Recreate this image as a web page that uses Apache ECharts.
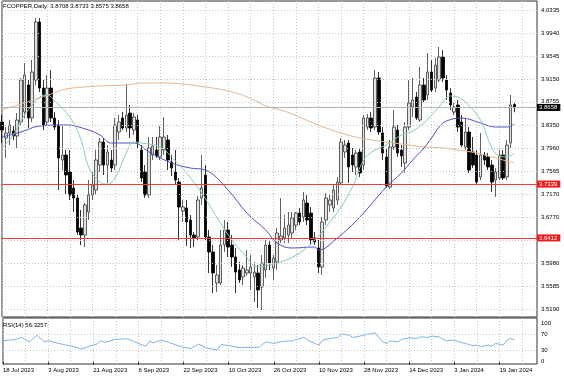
<!DOCTYPE html>
<html>
<head>
<meta charset="utf-8">
<script src="https://cdn.jsdelivr.net/npm/echarts@6/dist/echarts.min.js"></script>
<style>
html, body { margin: 0; padding: 0; background: #fff; }
#chart { width: 564px; height: 376px; }
</style>
</head>
<body>
<div id="chart"></div>
<script>
// daily bars, 18 Jul 2023 .. 25 Jan 2024
var opens = [3.8407,3.8132,3.8218,3.8252,3.8166,3.8407,3.8579,3.9044,3.8476,3.9130,4.0128,3.8992,3.8407,3.8992,3.8476,3.8356,3.7753,3.7839,3.7547,3.7271,
    3.7099,3.6583,3.6462,3.6858,3.7151,3.7237,3.7667,3.8063,3.7667,3.7753,3.7667,3.8235,3.8476,3.8304,3.8562,3.8269,3.8442,3.7925,3.7547,3.7151,
    3.7839,3.7925,3.7805,3.7925,3.8097,3.7719,3.7547,3.7374,3.6875,3.6927,3.6720,3.6462,3.6428,3.7099,3.7495,3.6428,3.6170,3.5636,3.5636,3.6290,
    3.6548,3.6290,3.6084,3.5860,3.5739,3.5808,3.5808,3.5739,3.5808,3.5567,3.5860,3.6290,3.5894,3.5998,3.6376,3.6411,3.6462,3.6497,3.6634,3.6841,
    3.6772,3.7013,3.6841,3.6411,3.6238,3.5911,3.6720,3.6979,3.6927,3.7065,3.7357,3.7891,3.8046,3.7839,3.7633,3.7891,3.7667,3.8321,3.8476,3.8321,
    3.9164,3.8218,3.7805,3.7288,3.7977,3.8269,3.7925,3.7701,3.8321,3.8665,3.8837,3.8442,3.9044,3.8872,3.9268,3.8992,3.9130,3.9526,3.9130,3.8906,
    3.8579,3.8700,3.8407,3.7977,3.8235,3.7891,3.7839,3.7461,3.7839,3.7805,3.7667,3.7409,3.7443,3.7839,3.7461,3.8046,3.8708];
var highs = [3.8528,3.8321,3.8442,3.8338,3.8562,3.9164,3.9423,3.9130,3.9474,4.0197,4.0197,3.9130,3.9216,3.9302,3.8579,3.8442,3.8356,3.7925,3.7925,3.7409,
    3.7151,3.6893,3.7013,3.7409,3.7547,3.7925,3.8132,3.8132,3.8011,3.7925,3.8476,3.8528,3.8579,3.9061,3.8700,3.8562,3.8528,3.8011,3.7667,3.8149,
    3.8149,3.8149,3.8338,3.8493,3.8183,3.7839,3.7925,3.7443,3.7065,3.7065,3.6806,3.6514,3.7133,3.7839,3.7667,3.6548,3.6290,3.5946,3.6548,3.6720,
    3.6686,3.6462,3.6238,3.5998,3.5946,3.6204,3.6118,3.5998,3.5946,3.6118,3.6376,3.6376,3.6118,3.6583,3.7099,3.6806,3.6858,3.6858,3.6858,3.6927,
    3.7202,3.7151,3.6944,3.6514,3.6376,3.6772,3.7185,3.7151,3.7323,3.7461,3.8132,3.8097,3.8097,3.7960,3.7925,3.7960,3.8528,3.8545,3.8579,3.9302,
    3.9268,3.8321,3.7960,3.8097,3.8614,3.8356,3.8011,3.8407,3.9130,3.9164,3.8923,3.9354,3.9164,3.9595,3.9474,3.9509,3.9698,3.9646,3.9216,3.8992,
    3.8734,3.8786,3.8528,3.8476,3.8321,3.8149,3.7925,3.8218,3.7891,3.7874,3.7753,3.7615,3.7925,3.7925,3.8097,3.8872,3.8733];
var lows = [3.8046,3.7788,3.8011,3.8097,3.7960,3.8356,3.8476,3.8304,3.8407,3.9044,3.8923,3.8269,3.8356,3.8407,3.8269,3.7237,3.7581,3.7151,3.7065,3.6858,
    3.6462,3.6290,3.6256,3.6720,3.7065,3.7151,3.7547,3.7495,3.7357,3.7547,3.7581,3.8097,3.8269,3.8235,3.8132,3.8183,3.7960,3.7374,3.7099,3.7099,
    3.7753,3.7788,3.7753,3.7839,3.7581,3.7478,3.7323,3.6376,3.6686,3.6273,3.6238,3.6256,3.6376,3.6979,3.6376,3.5808,3.5464,3.5481,3.5602,3.6170,
    3.6084,3.5911,3.5464,3.5636,3.5602,3.5757,3.5516,3.5309,3.5206,3.5171,3.5722,3.5860,3.5688,3.5860,3.6325,3.6325,3.6325,3.6411,3.6548,3.6634,
    3.6686,3.6634,3.6290,3.6290,3.5808,3.5774,3.6634,3.6858,3.6858,3.6979,3.7323,3.7788,3.7357,3.7547,3.7495,3.7461,3.7581,3.8269,3.8235,3.8269,
    3.8183,3.7753,3.7271,3.7254,3.7925,3.7805,3.7633,3.7529,3.8269,3.8493,3.8442,3.8407,3.8751,3.8786,3.8923,3.8923,3.9096,3.9096,3.8786,3.8614,
    3.8528,3.8235,3.7977,3.7925,3.7529,3.7615,3.7323,3.7409,3.7667,3.7581,3.7202,3.7116,3.7409,3.7409,3.7409,3.7960,3.8575];
var closes = [3.8269,3.8218,3.8356,3.8166,3.8442,3.9130,3.9216,3.8476,3.9268,4.0128,3.8992,3.8356,3.8992,3.8476,3.8321,3.7788,3.7839,3.7495,3.7151,3.7099,
    3.6514,3.6462,3.6979,3.7151,3.7323,3.7753,3.8063,3.7667,3.7891,3.7615,3.8356,3.8407,3.8304,3.8528,3.8304,3.8493,3.8046,3.7443,3.7151,3.7960,
    3.7994,3.7822,3.8149,3.8149,3.7753,3.7615,3.7409,3.6944,3.6944,3.6686,3.6462,3.6411,3.7065,3.7271,3.6428,3.6170,3.5808,3.5774,3.6290,3.6548,
    3.6256,3.6084,3.5825,3.5688,3.5894,3.5860,3.5911,3.5825,3.5516,3.5980,3.6290,3.5980,3.6066,3.6497,3.6445,3.6583,3.6634,3.6755,3.6841,3.6686,
    3.7065,3.6720,3.6376,3.6342,3.5911,3.6686,3.7099,3.7065,3.7237,3.7374,3.8063,3.8011,3.7633,3.7667,3.7874,3.7529,3.8476,3.8476,3.8304,3.9164,
    3.8235,3.7874,3.7306,3.7977,3.8321,3.7874,3.7822,3.8321,3.8734,3.8786,3.8476,3.9044,3.8786,3.9268,3.8958,3.9388,3.9526,3.9164,3.8958,3.8700,
    3.8665,3.8321,3.8011,3.8235,3.7581,3.7667,3.7374,3.7839,3.7753,3.7633,3.7374,3.7547,3.7839,3.7443,3.8011,3.8700,3.8658];

// moving averages, [bar, price]
var maSlow = [[0,3.8614],[5,3.8717],[9,3.8803],[13,3.8889],[17,3.8975],[22,3.9010],[26,3.9027],[33,3.9044],[37,3.9078],[43,3.9078],[48,3.9061],
    [52,3.9027],[56,3.8992],[59,3.8958],[63,3.8889],[65,3.8837],[68,3.8751],[70,3.8683],[74,3.8614],[77,3.8545],[82,3.8407],[86,3.8304],[90,3.8218],
    [95,3.8132],[100,3.8080],[104,3.8046],[108,3.8011],[112,3.7977],[117,3.7960],[121,3.7925],[126,3.7874],[130,3.7805],[136,3.7701]];
var maMid = [[0,3.8149],[5,3.8235],[10,3.8338],[17,3.8356],[23,3.8269],[26,3.8183],[29,3.8046],[35,3.8046],[39,3.7891],[45,3.7701],[50,3.7615],
    [54,3.7581],[60,3.7237],[65,3.6841],[70,3.6548],[73,3.6325],[77,3.6238],[83,3.6256],[84,3.6204],[89,3.6411],[95,3.6772],[102,3.7288],[106,3.7529],
    [109,3.7753],[112,3.7960],[114,3.8132],[116,3.8321],[118,3.8425],[122,3.8476],[127,3.8390],[131,3.8321],[134,3.8321],[136,3.8373]];
var maFast = [[0,3.7960],[3,3.8183],[6,3.8528],[10,3.8837],[12,3.8872],[14,3.8769],[18,3.8493],[21,3.8097],[23,3.7633],[26,3.7374],[28,3.7340],
    [30,3.7443],[33,3.7874],[35,3.8063],[37,3.8046],[42,3.7977],[45,3.7805],[49,3.7529],[53,3.7185],[57,3.6772],[61,3.6376],[64,3.6152],[68,3.5911],
    [70,3.5929],[74,3.5998],[79,3.6152],[83,3.6376],[86,3.6600],[90,3.6944],[93,3.7288],[96,3.7753],[99,3.7925],[102,3.8011],[106,3.8183],[109,3.8252],
    [112,3.8390],[116,3.8665],[119,3.8855],[121,3.8837],[123,3.8751],[127,3.8442],[130,3.7960],[132,3.7822],[134,3.7805],[136,3.7874]];

// RSI(14), [bar, value]
var rsi = [[0,54],[3,57],[5,62.5],[7,51],[9,68.5],[11,51],[12,54],[14,49],[16,44.5],[19,38.5],[21,32.6],[23,40],[25,45.5],[26,54],[27,50],[30,57.5],
    [33,59],[34,55.5],[36,47],[38,40],[39,53],[40,49],[42,55.5],[44,50],[46,43],[48,37],[50,34],[52,45.5],[54,36],[57,30],[58,44.5],[61,40],[63,36],
    [65,37],[68,37],[69,44.5],[70,51],[72,47],[74,52],[77,54],[78,57.5],[80,62.5],[81,55.5],[83,47],[84,43],[85,55.5],[87,60],[89,62.5],[90,71],
    [92,68.5],[93,62.5],[95,66],[96,68.5],[98,72.6],[99,74],[100,62.5],[101,51],[102,47],[103,54],[105,51],[106,57.5],[108,61.5],[110,60],[111,64],
    [113,62.5],[114,66],[116,64],[117,57.5],[118,54],[120,55.5],[122,49],[123,47],[125,41],[126,43],[127,38.5],[129,43],[130,40],[131,47],[133,43],
    [134,55.5],[135,60],[136,56.3257]];

var tickLabels = ['18 Jul 2023', '3 Aug 2023', '21 Aug 2023', '6 Sep 2023', '22 Sep 2023', '10 Oct 2023', '26 Oct 2023',
    '10 Nov 2023', '28 Nov 2023', '14 Dec 2023', '3 Jan 2024', '19 Jan 2024'];
var priceTicks = [4.0335, 3.9940, 3.9545, 3.9150, 3.8755, 3.8350, 3.7960, 3.7565, 3.7170, 3.6770, 3.6375, 3.5980, 3.5585, 3.5190];
var rsiTicks = [0, 30, 70, 100];
var levels = [3.7339, 3.6412];

var slotCount = 143; // bars plus the empty shift on the right
var font = 'Liberation Sans';

var init_chart = function() {
    var chart = echarts.init(document.getElementById('chart'));

    var slots = [];
    for (var i = 0; i < slotCount; i++) slots.push(String(i));

    var candles = opens.map(function(o, i) { return [o, closes[i], lows[i], highs[i]]; });
    var last = opens.length - 1;
    var lastPrice = closes[last];
    var head = 'FCOPPER,Daily  ' + [opens[last], highs[last], lows[last], closes[last]].map(function(v) { return v.toFixed(4); }).join(' ');
    var rsiHead = 'RSI(14) ' + rsi[rsi.length - 1][1].toFixed(4);

    var dotted = { color: '#c6c6c6', type: [1, 2], width: 1 };
    var hidden = { color: 'rgba(0,0,0,0)', width: 0 };

    var levelLines = levels.map(function(v) {
        return {
            yAxis: v,
            lineStyle: { color: '#f23a3a', type: 'solid', width: 1 },
            label: { show: true, position: 'end', distance: 0, formatter: v.toFixed(4), color: '#fff', backgroundColor: '#f01818',
                padding: [0, 3, 0, 2], lineHeight: 7, fontSize: 6, fontFamily: font }
        };
    });
    levelLines.push({
        yAxis: lastPrice,
        lineStyle: { color: '#b4b4b4', type: 'solid', width: 1 },
        label: { show: true, position: 'end', distance: 0, formatter: lastPrice.toFixed(4), color: '#fff', backgroundColor: '#000',
            padding: [0, 3, 0, 2], lineHeight: 7, fontSize: 6, fontFamily: font }
    });

    var option = {
        animation: false,
        backgroundColor: '#fff',
        title: [
            { text: head, left: 3, top: 3, padding: 0, textStyle: { fontSize: 6, fontWeight: 'normal', color: '#000', fontFamily: font } },
            { text: rsiHead, left: 3, top: 322, padding: 0, textStyle: { fontSize: 6, fontWeight: 'normal', color: '#000', fontFamily: font } }
        ],
        grid: [
            { left: 2, right: 27, top: 1, height: 316, show: true, borderColor: '#333', borderWidth: 1 },
            { left: 2, right: 27, top: 318, height: 46, show: true, borderColor: '#333', borderWidth: 1 }
        ],
        xAxis: [
            {
                type: 'category', gridIndex: 0, data: slots, boundaryGap: false,
                axisLine: { show: false }, axisTick: { show: false }, axisLabel: { show: false },
                splitLine: { show: true, interval: 5, lineStyle: dotted }
            },
            {
                type: 'category', gridIndex: 1, data: slots, boundaryGap: false,
                axisLine: { show: false },
                axisTick: { show: true, interval: 11, length: 3, lineStyle: { color: '#333' } },
                axisLabel: {
                    interval: 11, align: 'left', margin: 3, fontSize: 6, color: '#000', fontFamily: font,
                    formatter: function(value, index) { return tickLabels[index / 12] || ''; }
                },
                splitLine: { show: true, interval: 5, lineStyle: dotted }
            }
        ],
        yAxis: [
            { type: 'value', gridIndex: 0, position: 'right', min: 3.5051, max: 4.0490, scale: true,
              axisLine: { show: false }, axisTick: { show: false }, axisLabel: { show: false }, splitLine: { show: false } },
            { type: 'value', gridIndex: 1, position: 'right', min: -5.9, max: 112.6,
              axisLine: { show: false }, axisTick: { show: false }, axisLabel: { show: false }, splitLine: { show: false } }
        ],
        series: [
            {
                // price grid lines + right-hand labels
                type: 'line', xAxisIndex: 0, yAxisIndex: 0, data: [], z: 1,
                markLine: {
                    silent: true, symbol: 'none', animation: false, precision: 4,
                    lineStyle: dotted,
                    label: {
                        show: true, position: 'end', distance: 4, fontSize: 6, color: '#000', fontFamily: font,
                        formatter: function(p) {
                            for (var k = 0; k < levels.length; k++) if (Math.abs(p.value - levels[k]) < 0.006) return '';
                            return Number(p.value).toFixed(4);
                        }
                    },
                    data: priceTicks.map(function(v) { return { yAxis: v }; })
                }
            },
            {
                type: 'candlestick', xAxisIndex: 0, yAxisIndex: 0, data: candles, z: 3,
                barWidth: 3, clip: false,
                itemStyle: { color: '#e2e2e2', color0: '#000', borderColor: '#3a3a3a', borderColor0: '#000', borderWidth: 0.8 },
                markLine: { silent: true, symbol: 'none', animation: false, precision: 4, data: levelLines }
            },
            { type: 'line', xAxisIndex: 0, yAxisIndex: 0, data: maSlow, showSymbol: false, smooth: 0.4, z: 4,
              lineStyle: { color: '#e3b690', width: 1 } },
            { type: 'line', xAxisIndex: 0, yAxisIndex: 0, data: maMid, showSymbol: false, smooth: 0.4, z: 4,
              lineStyle: { color: '#4f4fc8', width: 1 } },
            { type: 'line', xAxisIndex: 0, yAxisIndex: 0, data: maFast, showSymbol: false, smooth: 0.4, z: 4,
              lineStyle: { color: '#86cfac', width: 1 } },
            {
                type: 'line', xAxisIndex: 1, yAxisIndex: 1, data: rsi, showSymbol: false, z: 4,
                lineStyle: { color: '#7fb3e6', width: 1 },
                markLine: {
                    silent: true, symbol: 'none', animation: false, precision: 0,
                    label: { show: true, position: 'end', distance: 4, fontSize: 6, color: '#000', fontFamily: font,
                        formatter: function(p) { return String(p.value); } },
                    data: rsiTicks.map(function(v) {
                        var edge = (v === 0 || v === 100);
                        return { yAxis: v, lineStyle: edge ? hidden : dotted };
                    })
                }
            }
        ]
    };
    chart.setOption(option);
};

init_chart();
</script>
</body>
</html>
